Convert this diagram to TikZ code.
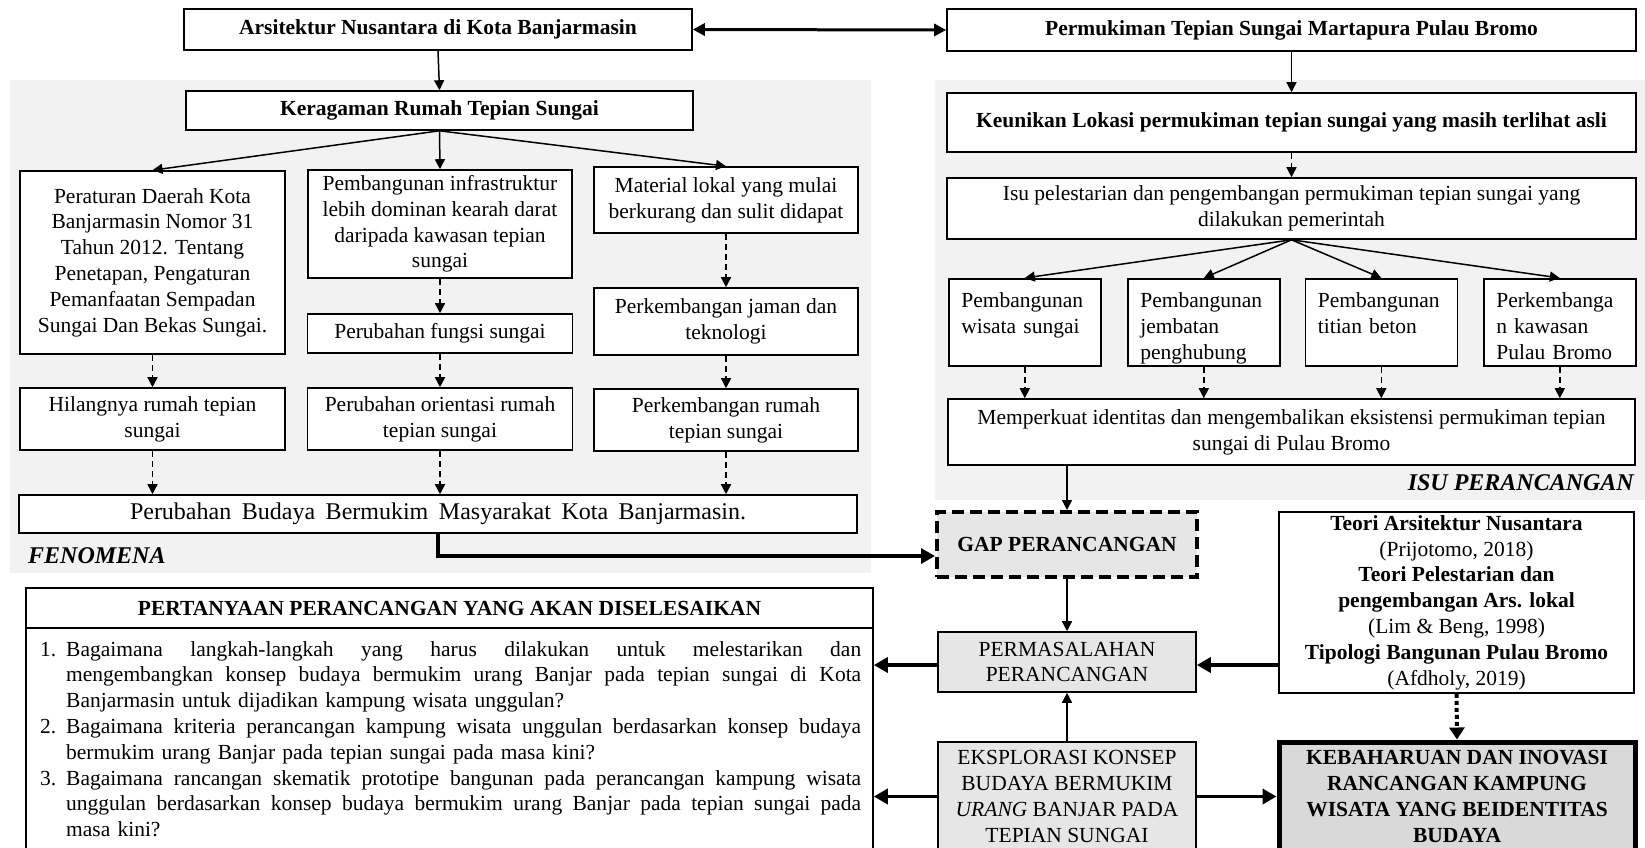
\documentclass[tikz,border=0pt]{standalone}
\usepackage{fontspec}
\setmainfont{Liberation Serif}
\usetikzlibrary{arrows.meta,calc}

\definecolor{panel}{HTML}{F2F2F2}
\definecolor{boxgray}{HTML}{E7E6E6}
\definecolor{keygray}{HTML}{D9D9D9}

% one justified line of the numbered list (font spaces, stretched to the full measure)
\newcommand{\jline}[1]{\makebox[795pt][s]{\spaceskip=0pt\xspaceskip=0pt\relax #1}}
\newcommand{\qnum}[1]{\makebox[26pt][l]{#1}}
\newcommand{\qind}{\hspace*{26pt}}

\begin{document}
\begin{tikzpicture}[x=1pt,y=-1pt,
  every node/.style={inner sep=0pt, font=\fontsize{21.5}{25.8}\selectfont},
  fn/.style={font=\fontsize{21.5}{25.8}\selectfont},
  fb/.style={font=\fontsize{21.5}{25.8}\selectfont\bfseries},
  fbi/.style={font=\fontsize{24}{28}\selectfont\bfseries\itshape},
  box/.style={draw, line width=1.6pt, fill=white, align=center},
  sbox/.style={draw, line width=1.6pt, fill=white, align=left, anchor=north west,
    text width=127pt, inner xsep=12.5pt, inner ysep=0pt, text height=29pt, text depth=58pt},
  arr/.style={line width=1.5pt, -{Triangle[length=10pt,width=10pt]}},
  darr/.style={arr, dash pattern=on 6pt off 4pt},
  thk/.style={line width=3.5pt, -{Triangle[length=14pt,width=15pt]}},
  both/.style={line width=3pt, {Triangle[length=12pt,width=12pt]}-{Triangle[length=12pt,width=12pt]}},
  dotarr/.style={line width=4pt, dash pattern=on 4pt off 3pt, -{Triangle[length=12pt,width=15pt]}},
]
\useasboundingbox (0,0) rectangle (1645,847);
\clip (0,0) rectangle (1645,847);
\fill[white] (0,0) rectangle (1645,847);

% background panels
\fill[panel] (10,80) rectangle (871,573);
\fill[panel] (935,80) rectangle (1645,500);

% top row
\node[box, fb, minimum width=508pt, minimum height=41pt] (A) at (438,29.5) {Arsitektur Nusantara di Kota Banjarmasin};
\node[box, fb, minimum width=689pt, minimum height=42pt] (P) at (1291.5,30) {Permukiman Tepian Sungai Martapura Pulau Bromo};

% phenomena
\node[box, fb, minimum width=507pt, minimum height=39pt] (K) at (439.5,110.5) {Keragaman Rumah Tepian Sungai};
\node[box, minimum width=265pt, minimum height=183pt] (L1) at (152.5,262.5) {Peraturan Daerah Kota\\Banjarmasin Nomor 31\\Tahun 2012. Tentang\\Penetapan, Pengaturan\\Pemanfaatan Sempadan\\Sungai Dan Bekas Sungai.};
\node[box, minimum width=264pt, minimum height=108pt] (M1) at (440,224) {Pembangunan infrastruktur\\lebih dominan kearah darat\\daripada kawasan tepian\\sungai};
\node[box, minimum width=264pt, minimum height=66pt] (R1) at (726,200) {Material lokal yang mulai\\berkurang dan sulit didapat};
\node[box, minimum width=265pt, minimum height=39pt] (M2) at (440,333.5) {Perubahan fungsi sungai};
\node[box, minimum width=264pt, minimum height=67pt] (R2) at (726,321.5) {Perkembangan jaman dan\\teknologi};
\node[box, minimum width=265pt, minimum height=62pt] (L3) at (152.5,419) {Hilangnya rumah tepian\\sungai};
\node[box, minimum width=265pt, minimum height=62pt] (M3) at (440,419) {Perubahan orientasi rumah\\tepian sungai};
\node[box, minimum width=264pt, minimum height=62pt] (R3) at (726,420) {Perkembangan rumah\\tepian sungai};
\node[box, font=\fontsize{24}{28}\selectfont, minimum width=838pt, minimum height=38pt] (BB) at (438,514)
  {\makebox[616pt][s]{Perubahan Budaya Bermukim Masyarakat Kota Banjarmasin.}};
\node[fbi, anchor=base west] (fen) at (28,563) {FENOMENA};

% design issues
\node[box, fb, minimum width=689pt, minimum height=59pt] (KU) at (1291.5,122.5) {Keunikan Lokasi permukiman tepian sungai yang masih terlihat asli};
\node[box, minimum width=689pt, minimum height=61pt] (IS) at (1291.5,208.5) {Isu pelestarian dan pengembangan permukiman tepian sungai yang\\dilakukan pemerintah};
\node[sbox] (B1) at (948,278) {Pembangunan\\wisata sungai};
\node[sbox] (B2) at (1127,278) {Pembangunan\\jembatan\\penghubung};
\node[sbox] (B3) at (1304.5,278) {Pembangunan\\titian beton};
\node[sbox] (B4) at (1483,278) {Perkembanga\\n kawasan\\Pulau Bromo};
\node[box, minimum width=687pt, minimum height=66pt] (MP) at (1291.5,432) {Memperkuat identitas dan mengembalikan eksistensi permukiman tepian\\sungai di Pulau Bromo};
\node[fbi, anchor=base east] (isu) at (1634,490) {ISU PERANCANGAN};

% design gap and results
\node[box, fb, fill=boxgray, line width=4pt, dash pattern=on 12pt off 6pt, minimum width=260pt, minimum height=65pt] (GAP) at (1067,544.5) {GAP PERANCANGAN};
\node[box, fill=boxgray, minimum width=258pt, minimum height=60pt] (PM) at (1067,662) {PERMASALAHAN\\PERANCANGAN};
\node[box, minimum width=355pt, minimum height=181pt] (TE) at (1456.5,602.5)
  {\textbf{Teori Arsitektur Nusantara}\\(Prijotomo, 2018)\\\textbf{Teori Pelestarian dan}\\\textbf{pengembangan Ars. lokal}\\(Lim \& Beng, 1998)\\\textbf{Tipologi Bangunan Pulau Bromo}\\(Afdholy, 2019)};
\node[box, fill=boxgray, minimum width=258pt, minimum height=109pt] (EK) at (1067,796.5)
  {EKSPLORASI KONSEP\\BUDAYA BERMUKIM\\\textit{URANG} BANJAR PADA\\TEPIAN SUNGAI};
\node[box, fb, fill=keygray, line width=5pt, minimum width=356pt, minimum height=109pt] (KB) at (1457,796.5)
  {KEBAHARUAN DAN INOVASI\\RANCANGAN KAMPUNG\\WISATA YANG BEIDENTITAS\\BUDAYA};

% research questions
\node[draw, line width=1.6pt, fill=white, minimum width=847pt, minimum height=264pt] (Q) at (449.5,720) {};
\node[fb, minimum width=847pt, minimum height=40pt] (QH) at (449.5,608) {PERTANYAAN PERANCANGAN YANG AKAN DISELESAIKAN};
\draw[line width=1.6pt] (QH.south west) -- (QH.south east);
\node[fn, anchor=base west, align=left, text width=821pt] (QL) at (40,656) {%
\qnum{1.}\jline{Bagaimana langkah-langkah yang harus dilakukan untuk melestarikan dan}\\
\qind\jline{mengembangkan konsep budaya bermukim urang Banjar pada tepian sungai di Kota}\\
\qind Banjarmasin untuk dijadikan kampung wisata unggulan?\\
\qnum{2.}\jline{Bagaimana kriteria perancangan kampung wisata unggulan berdasarkan konsep budaya}\\
\qind bermukim urang Banjar pada tepian sungai pada masa kini?\\
\qnum{3.}\jline{Bagaimana rancangan skematik prototipe bangunan pada perancangan kampung wisata}\\
\qind\jline{unggulan berdasarkan konsep budaya bermukim urang Banjar pada tepian sungai pada}\\
\qind masa kini?};

% connectors
\draw[both] (A.east) -- (P.west);
\draw[arr] (A.south) -- (K.north);
\draw[arr] (P.south) -- (KU.north);
\draw[darr] (KU.south) -- (IS.north);
\foreach \b in {B1,B2,B3,B4} \draw[arr] (IS.south) -- (\b.north);
\foreach \b in {L1,M1,R1} \draw[arr] (K.south) -- (\b.north);
\draw[darr] (M1.south) -- (M2.north);
\draw[darr] (R1.south) -- (R2.north);
\draw[darr] (L1.south) -- (L3.north);
\draw[darr] (M2.south) -- (M3.north);
\draw[darr] (R2.south) -- (R3.north);
\foreach \b in {L3,M3,R3} \draw[darr] (\b.south) -- (\b.south |- BB.north);
\foreach \b in {B1,B2,B3,B4} \draw[darr] (\b.south) -- (\b.south |- MP.north);
\draw[arr] (GAP.north |- MP.south) -- (GAP.north);
\draw[thk] (BB.south) |- ($(GAP.west)+(0,11.5)$);
\draw[arr] (GAP.south) -- (PM.north);
\draw[thk] ($(TE.west |- PM.east)+(0,3)$) -- ($(PM.east)+(0,3)$);
\draw[thk] ($(PM.west)+(0,3)$) -- ($(PM.west -| Q.east)+(0,3)$);
\draw[thk] (EK.west) -- (EK.west -| Q.east);
\draw[thk] (EK.east) -- (KB.west);
\draw[arr] (EK.north) -- (PM.south);
\draw[dotarr] (TE.south) -- (KB.north);
\end{tikzpicture}
\end{document}
